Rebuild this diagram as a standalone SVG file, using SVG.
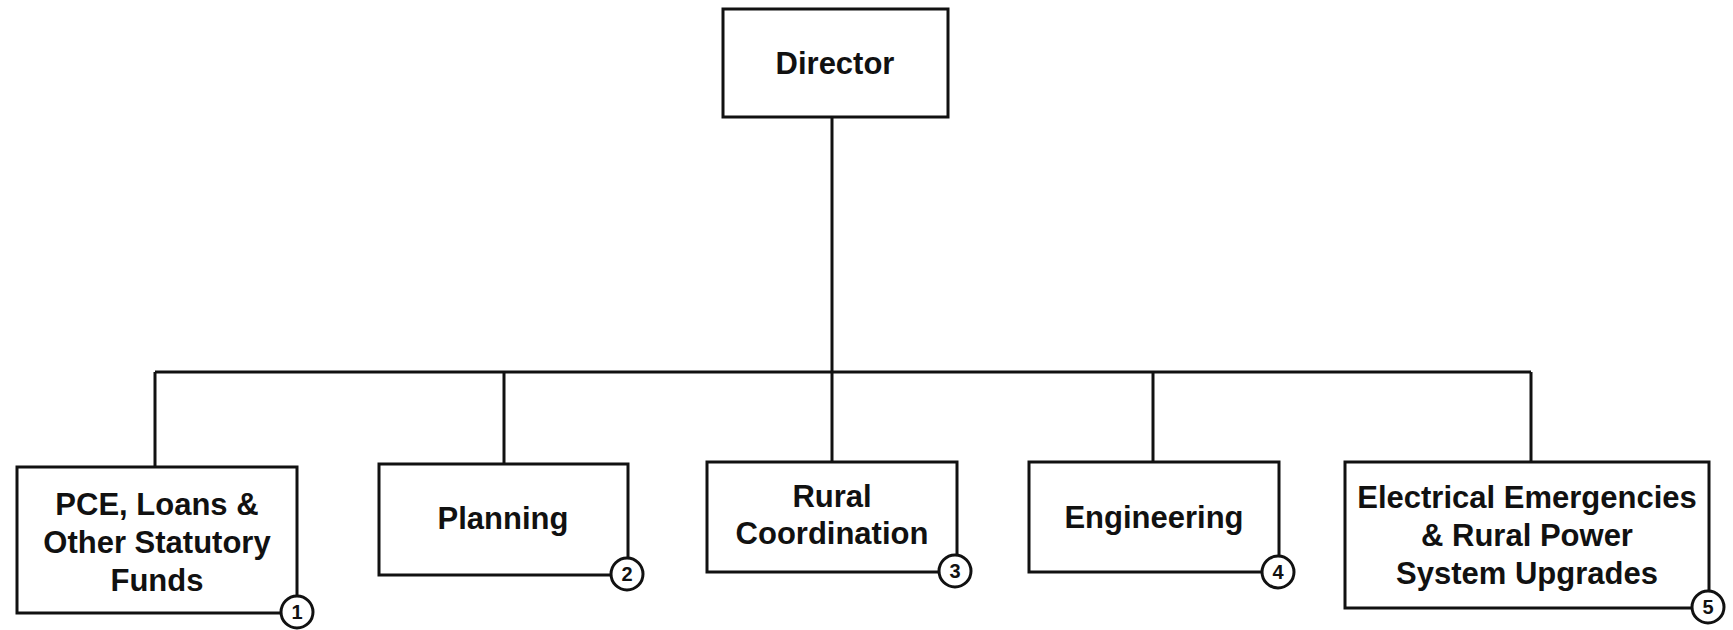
<svg xmlns="http://www.w3.org/2000/svg" width="1733" height="630" viewBox="0 0 1733 630">
<style>
.box{fill:#fff;stroke:#111;stroke-width:3}
.lbl{font-family:"Liberation Sans",Arial,sans-serif;font-weight:bold;font-size:31px;fill:#111;text-anchor:middle}
.num{font-family:"Liberation Sans",Arial,sans-serif;font-weight:bold;font-size:20px;fill:#111;text-anchor:middle}
.badge{fill:#fff;stroke:#111;stroke-width:3}
.conn{fill:none;stroke:#111;stroke-width:3}
</style>
<rect width="1733" height="630" fill="#fff"/>
<g id="connectors">
<path class="conn" d="M832 117 V372"/>
<path class="conn" d="M155 372 H1531"/>
<path class="conn" d="M155 372 V467"/>
<path class="conn" d="M504 372 V464"/>
<path class="conn" d="M1153 372 V462"/>
<path class="conn" d="M1531 372 V462"/>
<path class="conn" d="M832 372 V462"/>
</g>
<g id="director">
<rect class="box" x="723" y="9" width="225" height="108"/>
<text class="lbl" x="835" y="74">Director</text>
</g>
<g id="n1">
<rect class="box" x="17" y="467" width="280" height="146"/>
<text class="lbl" x="157" y="515">PCE, Loans &amp;</text>
<text class="lbl" x="157" y="553">Other Statutory</text>
<text class="lbl" x="157" y="591">Funds</text>
<circle class="badge" cx="297" cy="612" r="16"/>
<text class="num" x="297" y="619">1</text>
</g>
<g id="n2">
<rect class="box" x="379" y="464" width="249" height="111"/>
<text class="lbl" x="503" y="529">Planning</text>
<circle class="badge" cx="627" cy="574" r="16"/>
<text class="num" x="627" y="581">2</text>
</g>
<g id="n3">
<rect class="box" x="707" y="462" width="250" height="110"/>
<text class="lbl" x="832" y="507">Rural</text>
<text class="lbl" x="832" y="544">Coordination</text>
<circle class="badge" cx="955" cy="571" r="16"/>
<text class="num" x="955" y="578">3</text>
</g>
<g id="n4">
<rect class="box" x="1029" y="462" width="250" height="110"/>
<text class="lbl" x="1154" y="528">Engineering</text>
<circle class="badge" cx="1278" cy="572" r="16"/>
<text class="num" x="1278" y="579">4</text>
</g>
<g id="n5">
<rect class="box" x="1345" y="462" width="364" height="146"/>
<text class="lbl" x="1527" y="508">Electrical Emergencies</text>
<text class="lbl" x="1527" y="546">&amp; Rural Power</text>
<text class="lbl" x="1527" y="584">System Upgrades</text>
<circle class="badge" cx="1708" cy="607" r="16"/>
<text class="num" x="1708" y="614">5</text>
</g>
</svg>
